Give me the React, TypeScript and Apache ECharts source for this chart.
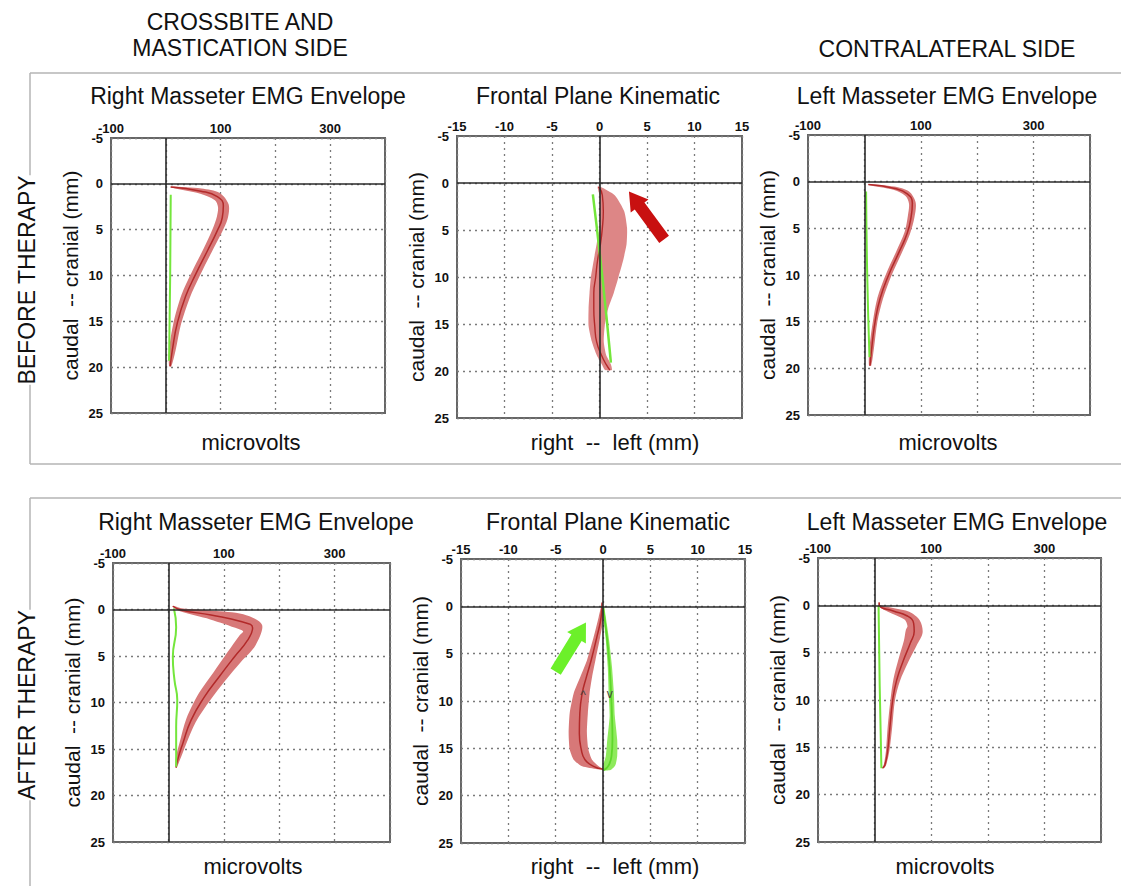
import React, { useEffect, useRef } from "react";
import * as echarts from "echarts";

// ---------- axes ----------
const depthMin = -5;
const depthMax = 25;
const depthStep = 5;
const emgMin = -100;
const emgMax = 400;
const emgStep = 100;
const emgShownLabels = [-100, 100, 300];
const kinMin = -15;
const kinMax = 15;
const kinStep = 5;

// ---------- texts ----------
const panelTitles = ["Right Masseter EMG Envelope", "Frontal Plane Kinematic", "Left Masseter EMG Envelope"];
const xNames = ["microvolts", "right  --  left (mm)", "microvolts"];
const yName = "caudal  -- cranial (mm)";
const rowLabels = ["BEFORE THERAPY", "AFTER THERAPY"];
const headingLeft = ["CROSSBITE AND", "MASTICATION SIDE"];
const headingRight = "CONTRALATERAL SIDE";

// ---------- BEFORE: right masseter (microvolts vs depth mm) ----------
const tlDepth = [0.35, 0.8, 1.4, 2.4, 3.7, 5.1, 7.3, 9.8, 12.3, 15.2, 18.1, 19.9];
const tlMean = [9, 64, 94, 105, 103, 94, 76, 55, 36, 21, 12, 8];
const tlSd = [1, 5, 8, 10, 10, 9, 8, 8, 8, 7, 6, 2];
const tlGreenDepth = [1.2, 10, 19.3];
const tlGreenX = [9, 8, 6];

// ---------- BEFORE: frontal kinematic ----------
const tmDepth = [0.4, 1.3, 3.0, 4.8, 6.5, 8.2, 10, 11.7, 13.4, 15.2, 16.9, 18.3, 19.3, 19.9];
const tmCenter = [-0.1, 0.3, 0.4, 0.3, 0.1, -0.2, -0.4, -0.6, -0.6, -0.5, -0.3, 0.2, 0.7, 1.1];
const tmLow = [-0.2, 0.0, 0.05, 0.0, -0.3, -0.6, -0.9, -1.05, -1.15, -1.15, -0.8, -0.3, 0.25, 0.6];
const tmHigh = [0.1, 1.6, 2.6, 2.9, 2.85, 2.5, 2.0, 1.5, 0.9, 0.55, 0.45, 0.7, 1.2, 1.3];
const tmGreenDepth = [1.2, 10, 19.1];
const tmGreenX = [-0.7, 0.3, 1.2];
const tmArrow = [6.8, 6.0, 3.1, 0.9]; // tail x, tail y, head x, head y

// ---------- BEFORE: left masseter ----------
const trDepth = [0.3, 0.7, 1.3, 2.3, 3.7, 5.5, 7.6, 10, 12.5, 15, 17.8, 19.7];
const trMean = [7, 52, 76, 85, 83, 76, 61, 43, 28, 19, 13, 10];
const trSd = [1, 3, 5, 6, 6, 5, 5, 5, 5, 4, 4, 2];
const trGreenDepth = [1.05, 10, 18.8];
const trGreenX = [3, 5, 9];

// ---------- AFTER: right masseter ----------
const blDepth = [-0.35, 0.05, 0.6, 1.3, 2.0, 3.3, 5.1, 7.2, 9.4, 11.9, 14.4, 16.1, 17.0];
const blMean = [8, 23, 77, 131, 152, 143, 119, 92, 65, 41, 26, 17, 14];
const blSd = [1, 3, 8, 14, 18, 17, 15, 13, 12, 9, 6, 4, 1];
const blGreenDepth = [-0.1, 1.9, 5.1, 7.6, 9.7, 12.6, 16.9];
const blGreenX = [10, 14, 8, 11, 16, 14, 14];

// ---------- AFTER: frontal kinematic ----------
const bmRedDepth = [-0.4, 1.15, 3.25, 5.7, 7.45, 9.2, 11.3, 13.4, 15.1, 16.2, 16.9, 17.2];
const bmRedLow = [-0.1, -0.46, -0.99, -1.69, -2.39, -3.1, -3.52, -3.63, -3.52, -3.1, -2.2, -0.6];
const bmRedHigh = [-0.1, 0.05, -0.3, -0.8, -1.15, -1.42, -1.6, -1.7, -1.55, -1.16, -0.46, 0];
const bmRedCenter = [-0.1, -0.2, -0.65, -1.25, -1.75, -2.2, -2.45, -2.5, -2.3, -1.9, -1.0, 0];
const bmGreenDepth = [0, 1.15, 3.6, 6.4, 9.2, 11.6, 14.1, 15.8, 16.8, 17.3];
const bmGreenLow = [-0.05, 0.05, 0.3, 0.5, 0.6, 0.7, 0.45, 0.3, 0.0, -0.1];
const bmGreenHigh = [0.1, 0.3, 0.65, 0.95, 1.15, 1.25, 1.5, 1.5, 1.3, 0.8];
const bmGreenCenter = [0, 0.15, 0.45, 0.7, 0.85, 0.95, 1.0, 0.9, 0.6, 0.1];
const bmArrow = [-5.0, 6.9, -1.8, 1.7];
const bmMarkX = [-2.1, 0.7];
const bmMarkDepth = [9.4, 9.3];
const bmMarkText = ["^", "v"];

// ---------- AFTER: left masseter ----------
const brDepth = [-0.3, 0.07, 0.6, 1.1, 1.9, 2.75, 4, 5.8, 7.9, 10, 12.9, 15.4, 16.9, 17.2];
const brMean = [8, 9, 33, 57, 69, 70, 63, 51, 39, 32, 27, 23, 18, 14];
const brSd = [1, 2, 5, 8, 12, 15, 12, 9, 6, 4, 4, 3, 2, 1];
const brGreenDepth = [0.07, 8.5, 17.2];
const brGreenX = [7, 9, 12];

// ---------- styles / layout ----------
const FONT = "Liberation Sans, Arial, sans-serif";
const BAND = "#d77878";
const BAND_LIGHT = "#dd8686";
const RED_LINE = "#b22a2a";
const GREEN = "#74e63c";
const GREEN_BAND = "#8eea5c";
const ARROW_RED = "#c81010";
const ARROW_GREEN = "#6cf02a";

const GRIDS = [
  { left: 111, top: 138, width: 274, height: 275 },
  { left: 457, top: 136, width: 285, height: 282 },
  { left: 808, top: 135, width: 282, height: 280 },
  { left: 113, top: 563, width: 277, height: 279 },
  { left: 461, top: 559, width: 284, height: 284 },
  { left: 818, top: 558, width: 283, height: 284 },
];

const zip = (xs: number[], ys: number[]) => xs.map((x, i) => [x, ys[i]]);

function perpBand(gi: number, depth: number[], mean: number[], sd: number[], color: string) {
  return {
    type: "custom",
    xAxisIndex: gi,
    yAxisIndex: gi,
    coordinateSystem: "cartesian2d",
    silent: true,
    z: 2,
    data: depth.map((d, i) => [mean[i], d, sd[i]]),
    encode: { x: 0, y: 1 },
    renderItem: (params: any, api: any) => {
      if (params.dataIndex !== 0) return null;
      const p = depth.map((d, i) => api.coord([mean[i], d]));
      const o = api.coord([0, 0]);
      const w = sd.map((s) => Math.abs(api.coord([s, 0])[0] - o[0]));
      const up: number[][] = [];
      const lo: number[][] = [];
      for (let i = 0; i < p.length; i++) {
        const a = p[Math.max(0, i - 1)];
        const b = p[Math.min(p.length - 1, i + 1)];
        let tx = b[0] - a[0];
        let ty = b[1] - a[1];
        const L = Math.hypot(tx, ty) || 1;
        tx /= L;
        ty /= L;
        const nx = -ty;
        const ny = tx;
        up.push([p[i][0] + nx * w[i], p[i][1] + ny * w[i]]);
        lo.push([p[i][0] - nx * w[i], p[i][1] - ny * w[i]]);
      }
      const pts = up.concat(lo.reverse());
      return { type: "polygon", shape: { points: pts, smooth: 0.3 }, style: { fill: color } };
    },
  };
}

function lowHighBand(gi: number, depth: number[], low: number[], high: number[], color: string) {
  return {
    type: "custom",
    xAxisIndex: gi,
    yAxisIndex: gi,
    coordinateSystem: "cartesian2d",
    silent: true,
    z: 2,
    data: depth.map((d, i) => [low[i], d, high[i]]),
    encode: { x: 0, y: 1 },
    renderItem: (params: any, api: any) => {
      if (params.dataIndex !== 0) return null;
      const up = depth.map((d, i) => api.coord([high[i], d]));
      const lo = depth.map((d, i) => api.coord([low[i], d])).reverse();
      return { type: "polygon", shape: { points: up.concat(lo), smooth: 0.2 }, style: { fill: color } };
    },
  };
}

function arrowSeries(gi: number, a: number[], color: string) {
  return {
    type: "custom",
    xAxisIndex: gi,
    yAxisIndex: gi,
    coordinateSystem: "cartesian2d",
    silent: true,
    z: 6,
    data: [a],
    encode: { x: [0, 2], y: [1, 3] },
    renderItem: (params: any, api: any) => {
      const t = api.coord([api.value(0), api.value(1)]);
      const h = api.coord([api.value(2), api.value(3)]);
      const dx = h[0] - t[0];
      const dy = h[1] - t[1];
      const L = Math.hypot(dx, dy) || 1;
      const ux = dx / L;
      const uy = dy / L;
      const nx = -uy;
      const ny = ux;
      const hl = 18;
      const hw = 11;
      const sw = 6;
      const bx = h[0] - ux * hl;
      const by = h[1] - uy * hl;
      const pts = [
        [t[0] + nx * sw, t[1] + ny * sw],
        [bx + nx * sw, by + ny * sw],
        [bx + nx * hw, by + ny * hw],
        [h[0], h[1]],
        [bx - nx * hw, by - ny * hw],
        [bx - nx * sw, by - ny * sw],
        [t[0] - nx * sw, t[1] - ny * sw],
      ];
      return { type: "polygon", shape: { points: pts }, style: { fill: color } };
    },
  };
}

function markSeries(gi: number) {
  return {
    type: "custom",
    xAxisIndex: gi,
    yAxisIndex: gi,
    coordinateSystem: "cartesian2d",
    silent: true,
    z: 7,
    data: bmMarkX.map((x, i) => [x, bmMarkDepth[i]]),
    encode: { x: 0, y: 1 },
    renderItem: (params: any, api: any) => {
      const c = api.coord([api.value(0), api.value(1)]);
      return {
        type: "text",
        x: c[0],
        y: c[1],
        style: {
          text: bmMarkText[params.dataIndex],
          fill: "#444",
          fontSize: 12,
          fontFamily: FONT,
          align: "center",
          verticalAlign: "middle",
          textAlign: "center",
          textVerticalAlign: "middle",
        },
      };
    },
  };
}

const zeroLines = {
  silent: true,
  symbol: ["none", "none"],
  label: { show: false },
  lineStyle: { color: "#2a2a2a", width: 1.6, type: "solid" },
  data: [{ xAxis: 0 }, { yAxis: 0 }],
  animation: false,
};

function lineSeries(gi: number, data: number[][], color: string, width: number, z: number, withZero = false) {
  const s: any = {
    type: "line",
    xAxisIndex: gi,
    yAxisIndex: gi,
    data,
    smooth: true,
    symbol: "none",
    silent: true,
    lineStyle: { color, width },
    z,
  };
  if (withZero) s.markLine = zeroLines;
  return s;
}

const splitStyle = { show: true, lineStyle: { type: [2, 4], color: "#7a7a7a", width: 1.3 } };
const tickLabel = { fontSize: 13, fontWeight: "bold", color: "#111", fontFamily: FONT };

function xAxisFor(gi: number, emg: boolean) {
  return {
    gridIndex: gi,
    type: "value",
    position: "top",
    min: emg ? emgMin : kinMin,
    max: emg ? emgMax : kinMax,
    interval: emg ? emgStep : kinStep,
    axisLine: { show: false },
    axisTick: { show: false },
    axisLabel: {
      ...tickLabel,
      margin: 3,
      showMinLabel: true,
      showMaxLabel: true,
      formatter: (v: number) => (emg ? (emgShownLabels.includes(v) ? String(v) : "") : String(v)),
    },
    splitLine: splitStyle,
  };
}

function yAxisFor(gi: number) {
  return {
    gridIndex: gi,
    type: "value",
    inverse: true,
    min: depthMin,
    max: depthMax,
    interval: depthStep,
    axisLine: { show: false },
    axisTick: { show: false },
    axisLabel: { ...tickLabel, margin: 8, showMinLabel: true, showMaxLabel: true },
    splitLine: splitStyle,
    name: yName,
    nameLocation: "middle",
    nameGap: 30,
    nameRotate: 90,
    nameTextStyle: { fontSize: 21, color: "#111", fontFamily: FONT },
  };
}

function txt(text: string, x: number, y: number, size: number, rotation = 0, bg = false) {
  return {
    type: "text",
    x,
    y,
    rotation,
    z: 10,
    style: {
      text,
      fill: "#111",
      fontSize: size,
      fontFamily: FONT,
      align: "center",
      verticalAlign: "middle",
      textAlign: "center",
      textVerticalAlign: "middle",
      backgroundColor: bg ? "#fff" : undefined,
    },
  };
}

function ln(x1: number, y1: number, x2: number, y2: number) {
  return { type: "line", z: 1, shape: { x1, y1, x2, y2 }, style: { stroke: "#b5b5b5", lineWidth: 1.5 } };
}

export default function App() {
  const ref = useRef<HTMLDivElement>(null);
  useEffect(() => {
    if (!ref.current) return;
    const chart = echarts.init(ref.current, null, { renderer: "svg" });
    const emgFlags = [true, false, true, true, false, true];
    const option: any = {
      animation: false,
      backgroundColor: "#fff",
      grid: GRIDS.map((g) => ({ ...g, show: true, borderColor: "#666", borderWidth: 2, backgroundColor: "transparent" })),
      xAxis: emgFlags.map((e, i) => xAxisFor(i, e)),
      yAxis: emgFlags.map((_, i) => yAxisFor(i)),
      series: [
        // TL
        perpBand(0, tlDepth, tlMean, tlSd, BAND),
        lineSeries(0, zip(tlMean, tlDepth), RED_LINE, 1.5, 3),
        lineSeries(0, zip(tlGreenX, tlGreenDepth), GREEN, 2, 4, true),
        // TM
        lowHighBand(1, tmDepth, tmLow, tmHigh, BAND_LIGHT),
        lineSeries(1, zip(tmCenter, tmDepth), RED_LINE, 1.4, 3),
        lineSeries(1, zip(tmGreenX, tmGreenDepth), GREEN, 2.5, 4, true),
        arrowSeries(1, tmArrow, ARROW_RED),
        // TR
        perpBand(2, trDepth, trMean, trSd, BAND),
        lineSeries(2, zip(trMean, trDepth), RED_LINE, 1.5, 3),
        lineSeries(2, zip(trGreenX, trGreenDepth), GREEN, 2, 4, true),
        // BL
        perpBand(3, blDepth, blMean, blSd, BAND),
        lineSeries(3, zip(blMean, blDepth), RED_LINE, 1.5, 3),
        lineSeries(3, zip(blGreenX, blGreenDepth), GREEN, 2, 4, true),
        // BM
        lowHighBand(4, bmRedDepth, bmRedLow, bmRedHigh, BAND),
        lowHighBand(4, bmGreenDepth, bmGreenLow, bmGreenHigh, GREEN_BAND),
        lineSeries(4, zip(bmRedCenter, bmRedDepth), RED_LINE, 1.5, 3),
        lineSeries(4, zip(bmGreenCenter, bmGreenDepth), "#5ed82a", 1.8, 4, true),
        arrowSeries(4, bmArrow, ARROW_GREEN),
        markSeries(4),
        // BR
        perpBand(5, brDepth, brMean, brSd, BAND),
        lineSeries(5, zip(brMean, brDepth), RED_LINE, 1.5, 3),
        lineSeries(5, zip(brGreenX, brGreenDepth), GREEN, 2, 4, true),
      ],
      graphic: [
        // boxes
        ln(30, 73, 1121, 73),
        ln(30, 464, 1121, 464),
        ln(30, 73, 30, 464),
        ln(30, 498, 1121, 498),
        ln(30, 498, 30, 886),
        // headings
        txt(headingLeft[0], 240, 22, 23),
        txt(headingLeft[1], 240, 48, 23),
        txt(headingRight, 947, 49, 23),
        // titles
        txt(panelTitles[0], 248, 96, 23),
        txt(panelTitles[1], 598, 96, 23),
        txt(panelTitles[2], 947, 96, 23),
        txt(panelTitles[0], 256, 522, 23),
        txt(panelTitles[1], 608, 522, 23),
        txt(panelTitles[2], 957, 522, 23),
        // x names
        txt(xNames[0], 251, 442, 22),
        txt(xNames[1], 615, 442, 22),
        txt(xNames[2], 948, 442, 22),
        txt(xNames[0], 253, 866, 22),
        txt(xNames[1], 615, 866, 22),
        txt(xNames[2], 945, 866, 22),
        // row labels
        txt(rowLabels[0], 27, 280, 23, Math.PI / 2, true),
        txt(rowLabels[1], 27, 705, 23, Math.PI / 2, true),
      ],
    };
    chart.setOption(option);
    return () => chart.dispose();
  }, []);
  return (
    <div
      ref={ref}
      style={{ position: "absolute", left: 0, top: 0, width: 1121, height: 886, background: "#fff" }}
    />
  );
}
